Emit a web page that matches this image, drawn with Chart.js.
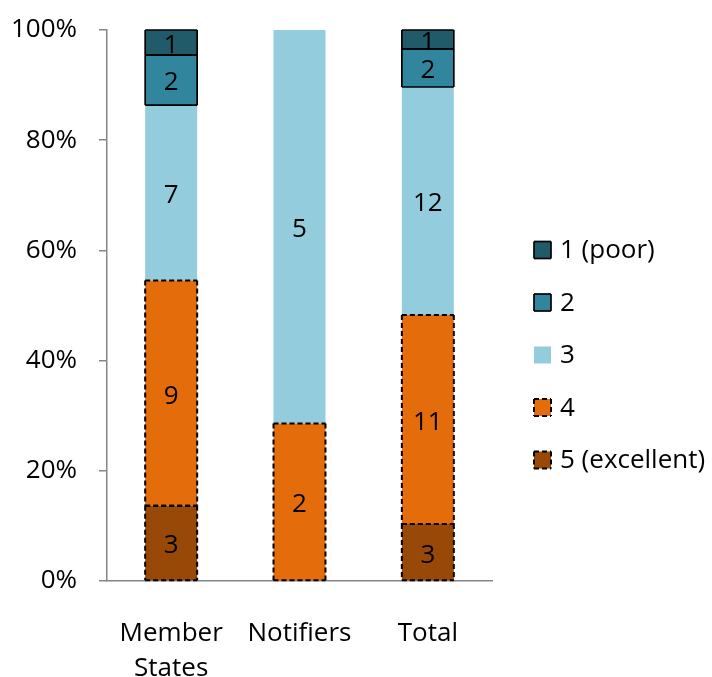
<!DOCTYPE html>
<html>
<head>
<meta charset="utf-8">
<script src="https://cdn.jsdelivr.net/npm/chart.js@4/dist/chart.umd.min.js"></script>
<style>
  html, body { margin: 0; padding: 0; background: #fff; }
  #wrap { width: 712px; height: 677px; }
</style>
</head>
<body>
<div id="wrap"><canvas id="ratingChart"></canvas></div>
<script>
// Number of responses per rating, for each group
var categories = [['Member', 'States'], 'Notifiers', 'Total'];
var ratingNames = ['1 (poor)', '2', '3', '4', '5 (excellent)'];
var rating1 = [1, 0, 1];
var rating2 = [2, 0, 2];
var rating3 = [7, 5, 12];
var rating4 = [9, 2, 11];
var rating5 = [3, 0, 3];
var yTicks = [0, 20, 40, 60, 80, 100];

var ratingColors = ['#215A69', '#31859C', '#93CDDD', '#E46C0A', '#984807'];
var ratingOutline = ['solid', 'solid', 'none', 'dashed', 'dashed'];
var FONT = 'Open Sans';
var FONT_SIZE = 26;

var ratingCounts = [rating1, rating2, rating3, rating4, rating5];
var groupTotals = categories.map(function(c, i) {
	return ratingCounts.reduce(function(sum, arr) { return sum + arr[i]; }, 0);
});

// rating 5 goes first so it sits at the bottom of each stack
var datasets = [];
for (var r = ratingCounts.length - 1; r >= 0; r--) {
	datasets.push({
		label: ratingNames[r],
		counts: ratingCounts[r],
		data: ratingCounts[r].map(function(v, i) { return v / groupTotals[i] * 100; }),
		backgroundColor: ratingColors[r],
		outline: ratingOutline[r],
		borderWidth: 0,
		barPercentage: 0.405,
		categoryPercentage: 1
	});
}

// each side drawn on its own so dashes line up where two segments touch
function strokeOutline(ctx, style, x, y, w, h) {
	var sides = [[x, y, x + w, y], [x, y + h, x + w, y + h], [x, y, x, y + h], [x + w, y, x + w, y + h]];
	ctx.save();
	ctx.strokeStyle = '#000';
	ctx.lineWidth = style === 'dashed' ? 2 : 1.7;
	ctx.setLineDash(style === 'dashed' ? [5, 3] : []);
	sides.forEach(function(s) {
		ctx.beginPath();
		ctx.moveTo(s[0], s[1]);
		ctx.lineTo(s[2], s[3]);
		ctx.stroke();
	});
	ctx.restore();
}

// outlines (solid / dashed) and the count written inside each segment
var segmentPlugin = {
	id: 'segments',
	afterDatasetsDraw: function(chart) {
		var ctx = chart.ctx;
		chart.data.datasets.forEach(function(ds, di) {
			if (ds.outline === 'none') return;
			chart.getDatasetMeta(di).data.forEach(function(bar, i) {
				if (!ds.counts[i]) return;
				var p = bar.getProps(['x', 'y', 'base', 'width'], true);
				strokeOutline(ctx, ds.outline, p.x - p.width / 2, p.y, p.width, p.base - p.y);
			});
		});
		ctx.save();
		ctx.font = FONT_SIZE + 'px "' + FONT + '"';
		ctx.fillStyle = '#000';
		ctx.textAlign = 'center';
		ctx.textBaseline = 'middle';
		chart.data.datasets.forEach(function(ds, di) {
			chart.getDatasetMeta(di).data.forEach(function(bar, i) {
				if (!ds.counts[i]) return;
				var p = bar.getProps(['x', 'y', 'base'], true);
				ctx.fillText(String(ds.counts[i]), p.x, (p.y + p.base) / 2 + 3);
			});
		});
		ctx.restore();
	}
};

// legend on the right, rating 1 at the top
var legendPlugin = {
	id: 'sideLegend',
	afterDraw: function(chart) {
		var ctx = chart.ctx;
		var x = chart.chartArea.right + 42;
		var items = chart.data.datasets.slice().reverse();
		ctx.save();
		ctx.font = FONT_SIZE + 'px "' + FONT + '"';
		ctx.textAlign = 'left';
		ctx.textBaseline = 'middle';
		items.forEach(function(ds, k) {
			var cy = 250 + k * 52.5;
			ctx.fillStyle = ds.backgroundColor;
			ctx.fillRect(x, cy - 8.5, 17, 17);
			if (ds.outline !== 'none') strokeOutline(ctx, ds.outline, x, cy - 8.5, 17, 17);
			ctx.fillStyle = '#000';
			ctx.fillText(ds.label, x + 26, cy + 1);
		});
		ctx.restore();
	}
};

new Chart(document.getElementById('ratingChart'), {
	type: 'bar',
	data: { labels: categories, datasets: datasets },
	plugins: [segmentPlugin, legendPlugin],
	options: {
		responsive: true,
		maintainAspectRatio: false,
		animation: false,
		layout: { padding: { left: 0, top: 30, right: 220, bottom: 0 } },
		plugins: { legend: { display: false }, tooltip: { enabled: false } },
		scales: {
			x: {
				stacked: true,
				afterFit: function(axis) { axis.height = 96; },
				grid: { display: false },
				border: { display: true, color: '#868686', width: 1.5 },
				ticks: {
					color: '#000',
					padding: 27,
					maxRotation: 0,
					autoSkip: false,
					font: { family: FONT, size: FONT_SIZE, lineHeight: 1.35 }
				}
			},
			y: {
				stacked: true,
				min: 0,
				max: 100,
				afterFit: function(axis) {
					axis.width = 107;
					axis.paddingTop = 0;
					axis.paddingBottom = 0;
				},
				afterBuildTicks: function(axis) {
					axis.ticks = yTicks.map(function(v) { return { value: v }; });
				},
				grid: { drawOnChartArea: false, drawTicks: true, tickLength: 8, color: '#868686', lineWidth: 1.5 },
				border: { color: '#868686', width: 1.5 },
				ticks: {
					color: '#000',
					padding: 22,
					font: { family: FONT, size: FONT_SIZE },
					callback: function(v) { return v + '%'; }
				}
			}
		}
	}
});
</script>
</body>
</html>
